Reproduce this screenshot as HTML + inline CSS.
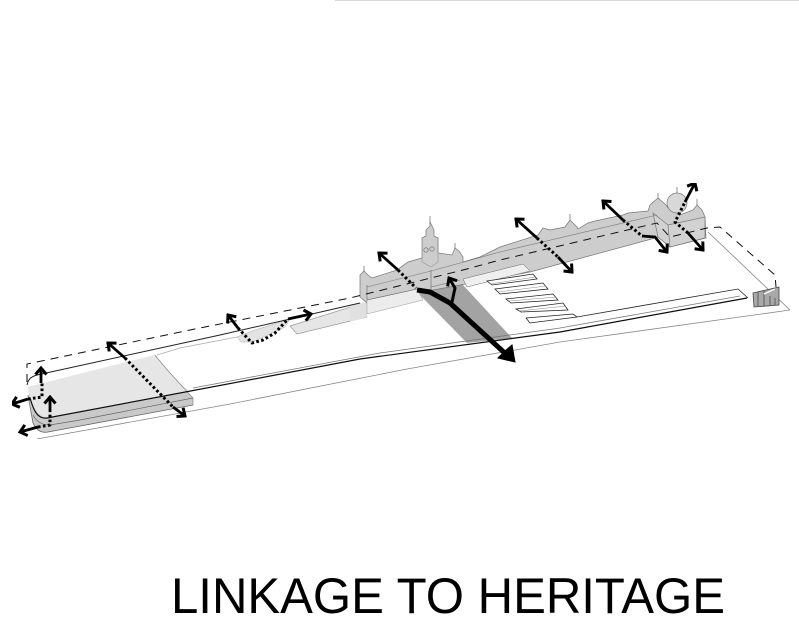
<!DOCTYPE html>
<html><head><meta charset="utf-8"><style>
html,body{margin:0;padding:0;background:#fff;width:799px;height:630px;overflow:hidden}
svg{display:block}
text{font-family:"Liberation Sans",sans-serif}
</style></head><body>
<svg width="799" height="630" viewBox="0 0 799 630" xmlns="http://www.w3.org/2000/svg">
<defs>
<marker id="h" viewBox="-9 -8 11 16" markerWidth="11" markerHeight="16" refX="0" refY="0" orient="auto" markerUnits="userSpaceOnUse">
<path d="M-6.5,-5.5L0,0L-6.5,5.5" fill="none" stroke="#000" stroke-width="3"/></marker>
<filter id="b" x="0" y="0" width="100%" height="100%"><feGaussianBlur stdDeviation="0.3"/></filter>
</defs>
<rect width="799" height="630" fill="#fff"/>
<line x1="335" y1="0" x2="799" y2="0" stroke="#ccc" stroke-width="1.5"/>
<g filter="url(#b)">
<!-- faint ground outline -->
<path d="M37,439L230,404L407,369L560,342L790,310L708,232" fill="none" stroke="#888" stroke-width=".8"/>
<path d="M157,355L180,348L237,337" fill="none" stroke="#aaa" stroke-width=".8"/>

<!-- lower-left block -->
<path d="M28,387L155,355C165,368 178,382 193,398V405L48,432Q38,434 33,423Z" fill="#c9c9c9"/>
<path d="M28,387L155,355C165,368 176,380 190,392L50,418Q34,420 28,387Z" fill="#e6e6e6"/>
<path d="M155,355C165,368 178,382 193,398V405" fill="none" stroke="#888" stroke-width=".7"/>
<path d="M193,405L48,432Q38,434 33,423L28,395" fill="none" stroke="#666" stroke-width=".8"/>
<path d="M193,398L80,420L50,425Q38,425 33,415" fill="none" stroke="#666" stroke-width=".7"/>

<!-- podiums -->
<path d="M290,326L360,304L367,317L297,334Z" fill="#e6e6e6" stroke="#999" stroke-width=".7"/>
<path d="M237,337L255,330L290,319L285,327L253,342L241,342Z" fill="#e3e3e3" stroke="#aaa" stroke-width=".5"/>
<path d="M350,305L367,302V317L350,322Z" fill="#e0e0e0"/>

<!-- plaza -->
<path d="M418,293L452,284L463,285L512,338L467,343Z" fill="#a3a3a3"/>

<!-- building wall -->
<path d="M360,297V275L364,271L368,275L372,278L397,270L408,262L422,258V238L426,236V230L430,226V222L434,230V236L438,238V253L452,255L455,248L459,251L463,257V262L480,257L500,247L538,235L543,228L550,230L565,227L570,220L577,227L578,229L588,223L595,221L623,215L628,213L648,211L650,205L658,198L666,205L668,208L680,215L693,210L697,205L702,210L705,217L706,238L670,247L658,237L648,240L530,272L417,293L367,303Z" fill="#cdcdcd" stroke="#777" stroke-width=".7"/>
<circle cx="677" cy="203" r="10" fill="#d8d8d8" stroke="#777" stroke-width=".7"/>
<path d="M677,187V193M430,216V224M658,193V199M697,199V206M570,214V221M455,243V249M364,266V272" stroke="#777" stroke-width=".8"/>
<path d="M653,213L668,225L705,217V238L670,247L658,237Z" fill="#d2d2d2" stroke="#777" stroke-width=".7"/>
<path d="M668,225L670,247M367,285V302M431,270V293" fill="none" stroke="#777" stroke-width=".7"/>
<path d="M367,287L431,271L500,252L657,215" fill="none" stroke="#777" stroke-width=".6"/>
<path d="M422,258V262L431,267L438,262V238" fill="none" stroke="#888" stroke-width=".5"/>
<circle cx="426" cy="250" r="2.2" fill="none" stroke="#666" stroke-width=".6"/><circle cx="432" cy="249" r="2.2" fill="none" stroke="#666" stroke-width=".6"/>
<!-- light bottom bands -->
<path d="M367,300L417,289L423,300L367,314Z" fill="#ececec" stroke="#999" stroke-width=".5"/>
<path d="M463,279L523,264L530,271L467,287Z" fill="#efefef" stroke="#666" stroke-width=".5"/>
<path d="M367,300L417,289" stroke="#666" stroke-width=".6"/>
<path d="M460,280L431,287" stroke="#666" stroke-width=".6"/>
<!-- dashed axis -->
<path d="M27,382V364L190,330L350,298L463,270L500,260L657,223L670,237L707,228L720,227L775,275L776,287" fill="none" stroke="#111" stroke-width="1" stroke-dasharray="8 6"/>

<!-- solid edge -->
<path d="M27,385C28,380 30,377 37,375L220,335L360,303" fill="none" stroke="#222" stroke-width="1"/>
<path d="M30,398C34,412 38,419 47,418L180,393L360,359L560,332L747,298" fill="none" stroke="#111" stroke-width="1.2"/>
<path d="M193,388L380,353L560,328L740,296" fill="none" stroke="#777" stroke-width=".8"/>

<!-- steps -->
<g fill="#fff" stroke="#222" stroke-width=".8">
<path d="M487,281L533,274L537,279L492,285Z"/>
<path d="M495,289L543,283L548,289L500,294Z"/>
<path d="M506,299L553,294L558,300L511,303Z"/>
<path d="M516,309L563,303L568,310L521,312Z"/>
<path d="M526,318L573,314L577,317L738,289L748,298" fill="none"/>
<path d="M526,318L530,323L577,317" fill="none"/>
</g>
<path d="M490,284L535,277M498,292L546,286M509,301L556,297M519,311L566,306" stroke="#888" stroke-width=".5" fill="none"/>

<!-- pavilion -->
<path d="M753,293L779,287V305L754,307Z" fill="#a9a9a9" stroke="#444" stroke-width=".8"/>
<path d="M758,292V306M764,291V306M770,296V305M775,298V305" stroke="#333" stroke-width=".6" fill="none"/>
<path d="M764,294L775,289" stroke="#fff" stroke-width="1.5"/>

<!-- arrows -->
<g fill="none" stroke="#000" stroke-linejoin="round">
<g stroke-width="2.8">
<path d="M28,399L12,404" marker-end="url(#h)"/>
<path d="M41,383V368" marker-end="url(#h)"/>
<path d="M38,427L20,432" marker-end="url(#h)"/>
<path d="M50,412V397" marker-end="url(#h)"/>
<path d="M125,358L108,343" marker-end="url(#h)"/>
<path d="M173,407L185,416" marker-end="url(#h)"/>
<path d="M238,328L228,315" marker-end="url(#h)"/>
<path d="M288,319L311,314" marker-end="url(#h)"/>
<path d="M398,270L379,253" marker-end="url(#h)"/>
<path d="M537,238L516,219" marker-end="url(#h)"/>
<path d="M558,257L572,272" marker-end="url(#h)"/>
<path d="M623,220L603,201" marker-end="url(#h)"/>
<path d="M642,236L655,237L667,252" marker-end="url(#h)"/>
<path d="M688,233L703,250" marker-end="url(#h)"/>
<path d="M685,202L695,183" marker-end="url(#h)"/>
</g>
<g stroke-width="3" stroke-dasharray="2.6 2.4">
<path d="M28,399L42,397V383"/>
<path d="M38,427L50,425V412"/>
<path d="M125,358L173,407"/>
<path d="M238,328L252,343L263,340L275,333L288,319"/>
<path d="M398,270L416,288"/>
<path d="M537,238L558,257"/>
<path d="M623,220L642,236"/>
<path d="M688,233L675,222L685,202"/>
</g>
<path d="M417,290L430,292L450,303L508,356" stroke-width="5"/>
<path d="M452,302L455,288L449,278" stroke-width="3" marker-end="url(#h)"/>
</g>
<path d="M498,358L515,362L512,345L505,351Z" fill="#000" stroke="#000" stroke-width="1"/>
</g>
<text x="171" y="613" font-size="50" fill="#000" textLength="554" lengthAdjust="spacingAndGlyphs">LINKAGE TO HERITAGE</text>
</svg>
</body></html>
